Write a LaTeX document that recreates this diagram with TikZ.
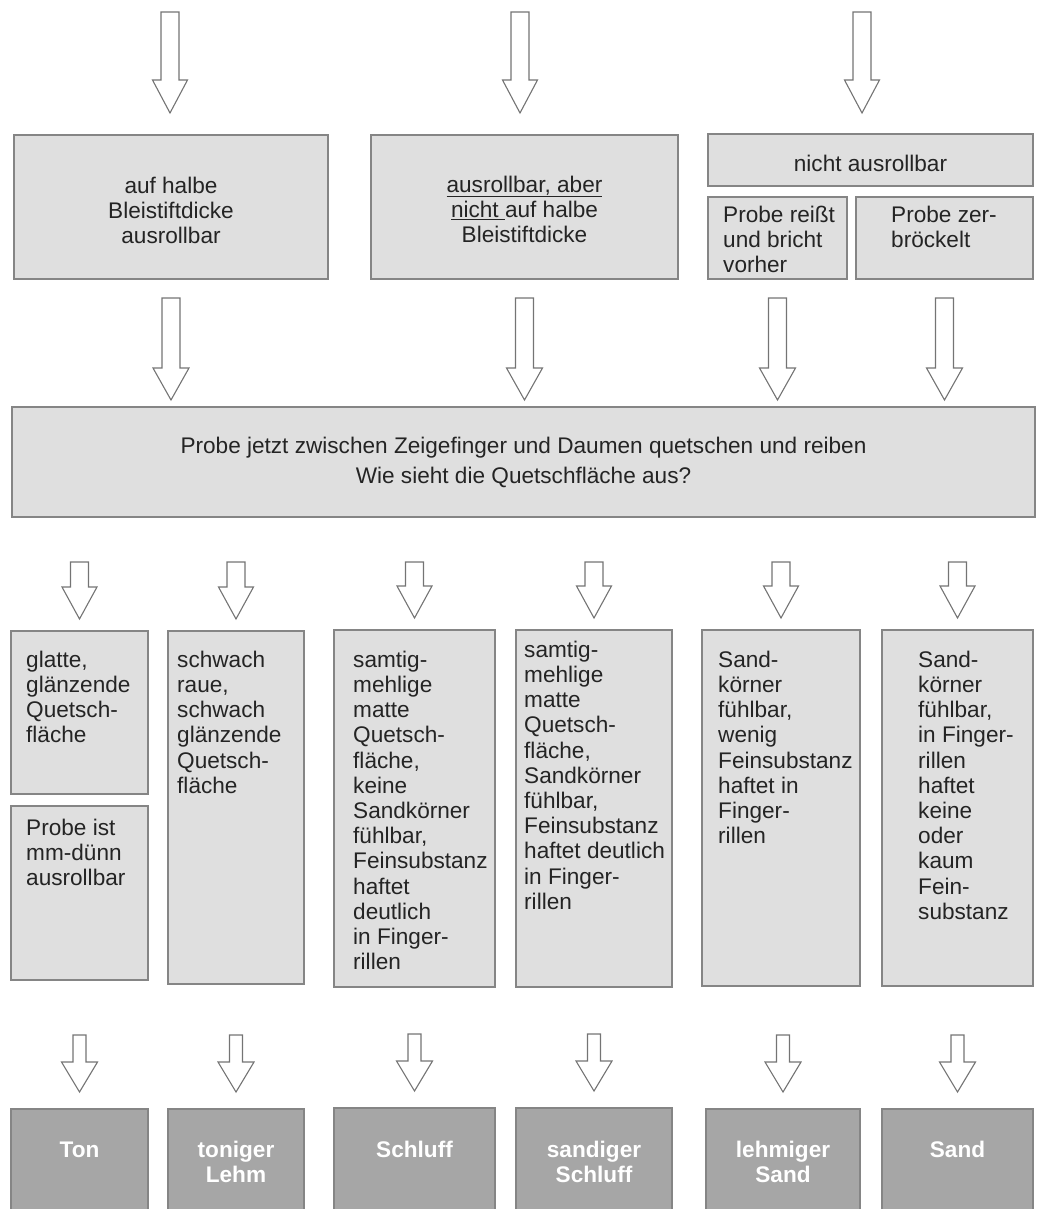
\documentclass[tikz,border=0pt]{standalone}
\usepackage{fontspec}
\setmainfont{Liberation Sans}
\usetikzlibrary{calc}
\definecolor{boxfill}{HTML}{DFDFDF}
\definecolor{boxline}{HTML}{858585}
\definecolor{resfill}{HTML}{A6A6A6}
\definecolor{arrline}{HTML}{747474}
\definecolor{txtcol}{HTML}{242424}
\newcommand\bfnt{\fontsize{22.6}{25.2}\selectfont}
\newcommand\bigfnt{\fontsize{22.6}{30}\selectfont}
% #1 start, #2 tip, #3 half shaft width, #4 half head width, #5 head length
\newcommand\blockarr[5]{%
  \draw[blk] let \p1=(#1), \p2=(#2) in
    ({\x1-#3pt},\y1) -- ({\x1+#3pt},\y1) -- ({\x1+#3pt},{\y2+#5pt})
    -- ({\x1+#4pt},{\y2+#5pt}) -- (\x1,\y2) -- ({\x1-#4pt},{\y2+#5pt})
    -- ({\x1-#3pt},{\y2+#5pt}) -- cycle;}
\begin{document}
\begin{tikzpicture}[x=1pt,y=-1pt,
  box/.style={draw=boxline, fill=boxfill, line width=1.3pt, inner sep=0pt, outer sep=0pt, anchor=north west},
  res/.style={box, fill=resfill},
  ltxt/.style={inner sep=0pt, anchor=north west, align=left, font=\bfnt, text=txtcol},
  ctxt/.style={inner sep=0pt, anchor=north, align=center, font=\bfnt, text=txtcol},
  rtxt/.style={inner sep=0pt, anchor=north, align=center, font=\bfnt\bfseries, text=white},
  blk/.style={draw=arrline, fill=white, line width=1.1pt, line join=miter}]
\useasboundingbox (0,0) rectangle (1036,1209);
\clip (0,0) rectangle (1036,1209);

% ---------- top row boxes
\node[box, minimum width=314pt, minimum height=144pt] (top1) at (14,135) {};
\node[box, minimum width=307pt, minimum height=144pt] (top2) at (371,135) {};
\node[box, minimum width=325pt, minimum height=52pt] (top3) at (708,134) {};
\node[box, minimum width=139pt, minimum height=82pt] (top3a) at (708,197) {};
\node[box, minimum width=177pt, minimum height=82pt] (top3b) at (856,197) {};

\node[ctxt] (t1) at ($(top1.north)+(0,40.4)$) {\strut auf halbe\\Bleistiftdicke\\ausrollbar};
\node[ctxt] (t2) at ($(top2.north)+(0,39.4)$) {\strut\underline{ausrollbar, aber}\\\underline{nicht\ }auf halbe\\Bleistiftdicke};
\node[ctxt] (t3) at ($(top3.north)+(0,19.4)$) {\strut nicht ausrollbar};
\node[ltxt] (t3a) at ($(top3a.north west)+(15,7.4)$) {\strut Probe reißt\\und bricht\\vorher};
\node[ltxt] (t3b) at ($(top3b.north west)+(35,7.4)$) {\strut Probe zer-\\bröckelt};

% ---------- big box
\node[box, minimum width=1023pt, minimum height=110pt] (big) at (12,407) {};
\node[inner sep=0pt, anchor=north, align=center, font=\bigfnt, text=txtcol] (tbig)
  at ($(big.north)+(0,25)$) {\strut Probe jetzt zwischen Zeigefinger und Daumen quetschen und reiben\\Wie sieht die Quetschfläche aus?};

% ---------- description boxes
\node[box, minimum width=137pt, minimum height=163pt] (a) at (11,631) {};
\node[box, minimum width=137pt, minimum height=174pt] (a2) at (11,806) {};
\node[box, minimum width=136pt, minimum height=353pt] (b) at (168,631) {};
\node[box, minimum width=161pt, minimum height=357pt] (c) at (334,630) {};
\node[box, minimum width=156pt, minimum height=357pt] (d) at (516,630) {};
\node[box, minimum width=158pt, minimum height=356pt] (e) at (702,630) {};
\node[box, minimum width=151pt, minimum height=356pt] (f) at (882,630) {};

\node[ltxt] (ta) at ($(a.north west)+(15,18.4)$) {\strut glatte,\\glänzende\\Quetsch-\\fläche};
\node[ltxt] (ta2) at ($(a2.north west)+(15,11.4)$) {\strut Probe ist\\mm-dünn\\ausrollbar};
\node[ltxt] (tb) at ($(b.north west)+(9,18.4)$) {\strut schwach\\raue,\\schwach\\glänzende\\Quetsch-\\fläche};
\node[ltxt] (tc) at ($(c.north west)+(19,19.4)$) {\strut samtig-\\mehlige\\matte\\Quetsch-\\fläche,\\keine\\Sandkörner\\fühlbar,\\Feinsubstanz\\haftet\\deutlich\\in Finger-\\rillen};
\node[ltxt] (td) at ($(d.north west)+(8,9.4)$) {\strut samtig-\\mehlige\\matte\\Quetsch-\\fläche,\\Sandkörner\\fühlbar,\\Feinsubstanz\\haftet deutlich\\in Finger-\\rillen};
\node[ltxt] (te) at ($(e.north west)+(16,19.4)$) {\strut Sand-\\körner\\fühlbar,\\wenig\\Feinsubstanz\\haftet in\\Finger-\\rillen};
\node[ltxt] (tf) at ($(f.north west)+(36,19.4)$) {\strut Sand-\\körner\\fühlbar,\\in Finger-\\rillen\\haftet\\keine\\oder\\kaum\\Fein-\\substanz};

% ---------- result boxes
\node[res, minimum width=137pt, minimum height=130pt] (ton) at (11,1109) {};
\node[res, minimum width=136pt, minimum height=130pt] (tonl) at (168,1109) {};
\node[res, minimum width=161pt, minimum height=130pt] (schl) at (334,1108) {};
\node[res, minimum width=156pt, minimum height=130pt] (sschl) at (516,1108) {};
\node[res, minimum width=154pt, minimum height=130pt] (lsand) at (706,1109) {};
\node[res, minimum width=151pt, minimum height=130pt] (sand) at (882,1109) {};

\node[rtxt] (rton) at ($(ton.north)+(0,30.4)$) {\strut Ton};
\node[rtxt] (rtonl) at ($(tonl.north)+(0,30.4)$) {\strut toniger\\Lehm};
\node[rtxt] (rschl) at ($(schl.north)+(0,31.4)$) {\strut Schluff};
\node[rtxt] (rsschl) at ($(sschl.north)+(0,31.4)$) {\strut sandiger\\Schluff};
\node[rtxt] (rlsand) at ($(lsand.north)+(0,30.4)$) {\strut lehmiger\\Sand};
\node[rtxt] (rsand) at ($(sand.north)+(0,30.4)$) {\strut Sand};

% ---------- arrows: top (incoming)
\coordinate (in1) at (170,12);
\coordinate (in2) at (520,12);
\coordinate (in3) at (862,12);
\blockarr{in1}{$(in1 |- top1.north)+(0,-22)$}{9}{17.5}{33}
\blockarr{in2}{$(in2 |- top2.north)+(0,-22)$}{9}{17.5}{33}
\blockarr{in3}{$(in3 |- top3.north)+(0,-21)$}{9}{17.5}{33}

% ---------- arrows: to big box
\blockarr{$(top1.south)+(0,19)$}{$(top1.south |- big.north)+(0,-7)$}{9}{18}{32}
\blockarr{$(top2.south)+(0,19)$}{$(top2.south |- big.north)+(0,-7)$}{9}{18}{32}
\blockarr{$(top3a.south)+(0,19)$}{$(top3a.south |- big.north)+(0,-7)$}{9}{18}{32}
\blockarr{$(top3b.south)+(0,19)$}{$(top3b.south |- big.north)+(0,-7)$}{9}{18}{32}

% ---------- arrows: big box to descriptions
\foreach \bx in {a,b,c,d,e,f}{
  \blockarr{$(\bx.north |- big.south)+(0,45)$}{$(\bx.north)+(0,-12)$}{9}{17.5}{32}
}

% ---------- arrows: descriptions to results
\foreach \bx in {ton,tonl,schl,sschl,lsand,sand}{
  \blockarr{$(\bx.north)+(0,-74)$}{$(\bx.north)+(0,-17)$}{6.5}{18}{30}
}
\end{tikzpicture}
\end{document}
